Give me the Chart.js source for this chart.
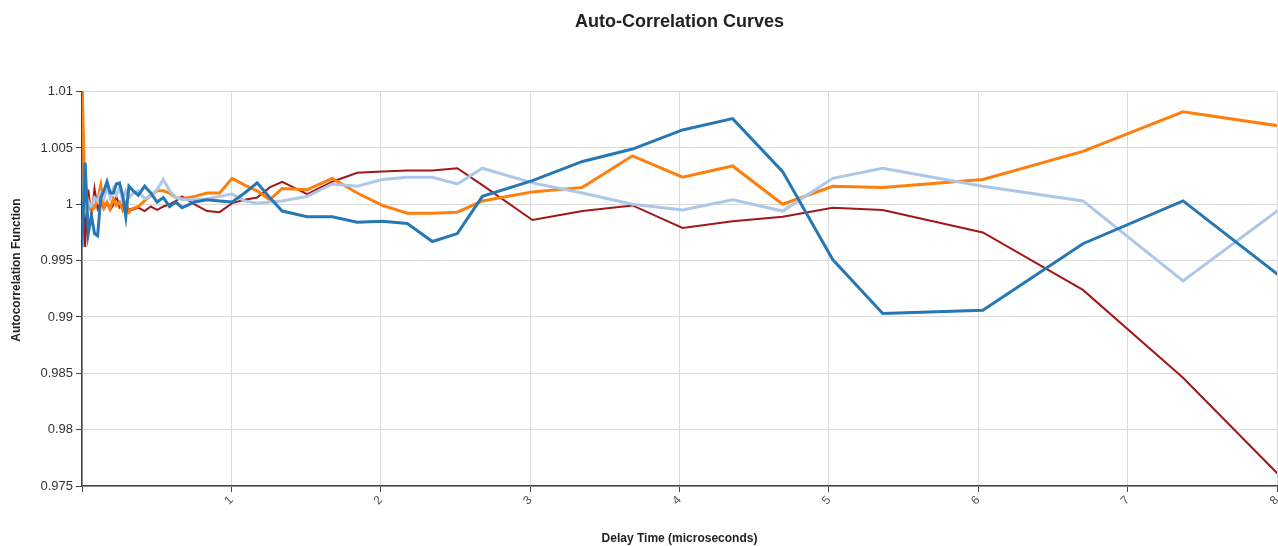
<!DOCTYPE html>
<html>
<head>
<meta charset="utf-8">
<title>Auto-Correlation Curves</title>
<script src="https://cdn.jsdelivr.net/npm/chart.js@4.4.1/dist/chart.umd.min.js"></script>
<style>
  body { margin: 0; background: #fff; }
  #wrap { width: 1278px; height: 546px; }
</style>
</head>
<body>
<div id="wrap"><canvas id="acfChart" width="1278" height="546"></canvas></div>
<script>
// Delay times (microseconds) - multiple-tau lag grid
const delayTimes = [
  0, 0.0209, 0.0419, 0.0628, 0.0838, 0.1047, 0.1256, 0.1466, 0.1675, 0.1885, 0.2094,
  0.2303, 0.2513, 0.2722, 0.2932, 0.3141, 0.335, 0.3769, 0.4188, 0.4607, 0.5026,
  0.5444, 0.5863, 0.6282, 0.6701, 0.7538, 0.8376, 0.9214, 1.0051, 1.0889, 1.1726,
  1.2564, 1.3402, 1.5077, 1.6752, 1.8427, 2.0102, 2.1778, 2.3453, 2.5128, 2.6803,
  3.0154, 3.3504, 3.6854, 4.0205, 4.3555, 4.6906, 5.0256, 5.3606, 6.0307, 6.7008,
  7.3709, 8.041
];

const acfBlue = [
  0.9962, 1.0037, 0.9974, 0.9990, 0.9974, 0.9972, 1.0006, 1.0012, 1.0020, 1.0010, 1.0010,
  1.0018, 1.0019, 1.0008, 0.9989, 1.0016, 1.0013, 1.0008, 1.0016, 1.0010, 1.0002,
  1.0006, 0.9998, 1.0002, 0.9997, 1.0002, 1.0004, 1.0003, 1.0002, 1.0010, 1.0019,
  1.0006, 0.9994, 0.9989, 0.9989, 0.9984, 0.9985, 0.9983, 0.9967, 0.9974, 1.0007,
  1.0021, 1.0038, 1.0049, 1.0066, 1.0076, 1.0029, 0.9951, 0.9903, 0.9906, 0.9965,
  1.0003, 0.9934
];

const acfLightBlue = [
  1.0000, 0.9995, 1.0002, 0.9998, 1.0006, 1.0003, 1.0010, 1.0005, 1.0016, 1.0006, 1.0014,
  1.0008, 1.0015, 1.0004, 1.0012, 1.0006, 1.0009, 1.0012, 1.0005, 1.0007, 1.0013,
  1.0022, 1.0012, 1.0006, 1.0004, 1.0004, 1.0005, 1.0007, 1.0009, 1.0003, 1.0001,
  1.0002, 1.0003, 1.0007, 1.0018, 1.0016, 1.0022, 1.0024, 1.0024, 1.0018, 1.0032,
  1.0019, 1.0010, 1.0000, 0.9995, 1.0004, 0.9994, 1.0023, 1.0032, 1.0016, 1.0003,
  0.9932, 0.9998
];

const acfOrange = [
  1.0110, 0.9995, 1.0003, 0.9994, 0.9997, 1.0004, 1.0017, 0.9997, 1.0002, 0.9996, 1.0005,
  0.9999, 1.0002, 0.9995, 1.0001, 0.9993, 0.9996, 0.9998, 1.0003, 1.0008, 1.0012,
  1.0012, 1.0010, 1.0006, 1.0005, 1.0007, 1.0010, 1.0010, 1.0023, 1.0017, 1.0012,
  1.0004, 1.0014, 1.0013, 1.0023, 1.0010, 0.9999, 0.9992, 0.9992, 0.9993, 1.0003,
  1.0011, 1.0015, 1.0043, 1.0024, 1.0034, 1.0000, 1.0016, 1.0015, 1.0022, 1.0047,
  1.0082, 1.0069
];

const acfDarkRed = [
  1.0125, 0.9962, 1.0013, 0.9990, 1.0014, 0.9996, 1.0002, 0.9996, 1.0001, 0.9995, 0.9999,
  1.0007, 0.9997, 0.9999, 0.9992, 0.9996, 0.9995, 0.9997, 0.9994, 0.9998, 0.9995,
  0.9998, 1.0000, 1.0003, 1.0007, 1.0000, 0.9994, 0.9993, 1.0001, 1.0004, 1.0006,
  1.0015, 1.0020, 1.0009, 1.0020, 1.0028, 1.0029, 1.0030, 1.0030, 1.0032, 1.0017,
  0.9986, 0.9994, 0.9999, 0.9979, 0.9985, 0.9989, 0.9997, 0.9995, 0.9975, 0.9924,
  0.9846, 0.9756
];

const yTicks = [0.975, 0.98, 0.985, 0.99, 0.995, 1, 1.005, 1.01];
const xTicks = [1, 2, 3, 4, 5, 6, 7, 8];

const FONT = "'Liberation Sans', Arial, sans-serif";

const toPoints = (values) => delayTimes.map((t, i) => ({ x: t, y: values[i] }));

const makeSet = (label, values, color, width) => ({
  label,
  data: toPoints(values),
  borderColor: color,
  backgroundColor: color,
  borderWidth: width,
  pointRadius: 0,
  tension: 0,
  fill: false
});

// y axis title sits a bit above the plot centre in the original, so draw it by hand
const yTitlePlugin = {
  id: 'yTitle',
  afterDraw(chart) {
    const c = chart.ctx;
    c.save();
    c.translate(17, 270);
    c.rotate(-Math.PI / 2);
    c.font = `bold 12px ${FONT}`;
    c.fillStyle = '#222';
    c.textAlign = 'center';
    c.textBaseline = 'middle';
    c.fillText('Autocorrelation Function', 0, 0);
    c.restore();
  }
};

const ctx = document.getElementById('acfChart').getContext('2d');

new Chart(ctx, {
  type: 'line',
  data: {
    datasets: [
      makeSet('Curve 1', acfBlue, '#2677b3', 3),
      makeSet('Curve 2', acfLightBlue, '#aec7e8', 3),
      makeSet('Curve 3', acfOrange, '#ff7f0e', 3),
      makeSet('Curve 4', acfDarkRed, '#a01818', 2)
    ]
  },
  plugins: [yTitlePlugin],
  options: {
    responsive: false,
    animation: false,
    layout: { padding: { right: 1, left: 0, top: 0, bottom: 0 } },
    plugins: {
      legend: { display: false },
      tooltip: { enabled: false },
      title: {
        display: true,
        text: 'Auto-Correlation Curves',
        fullSize: false,
        color: '#222',
        font: { family: FONT, size: 18, weight: 'bold' },
        padding: { top: 11, bottom: 59 }
      }
    },
    scales: {
      x: {
        type: 'linear',
        min: 0,
        max: 8,
        afterFit: (scale) => {
          scale.height = 60;
          scale.paddingLeft = 0;
          scale.paddingRight = 0;
        },
        afterBuildTicks: (scale) => {
          scale.ticks = [0].concat(xTicks).map(v => ({ value: v }));
        },
        ticks: {
          minRotation: 45,
          maxRotation: 45,
          padding: 1,
          color: '#555',
          font: { family: FONT, size: 12 },
          callback: (v) => (v === 0 ? '' : String(v))
        },
        grid: {
          color: '#dadada',
          lineWidth: 1,
          tickColor: '#444',
          tickLength: 6
        },
        border: { color: '#444', width: 1.5 },
        title: {
          display: true,
          text: 'Delay Time (microseconds)',
          color: '#222',
          font: { family: FONT, size: 12, weight: 'bold' },
          padding: { top: 0, bottom: 0 }
        }
      },
      y: {
        min: 0.975,
        max: 1.01,
        afterFit: (scale) => { scale.width = 82; },
        afterBuildTicks: (scale) => {
          scale.ticks = yTicks.map(v => ({ value: v }));
        },
        ticks: {
          color: '#333',
          padding: 3,
          font: { family: FONT, size: 13 },
          callback: (v) => String(Number(v.toFixed(3)))
        },
        grid: {
          color: '#dadada',
          lineWidth: 1,
          tickColor: '#444',
          tickLength: 6
        },
        border: { color: '#444', width: 1.5 },
        title: { display: false }
      }
    }
  }
});
</script>
</body>
</html>
